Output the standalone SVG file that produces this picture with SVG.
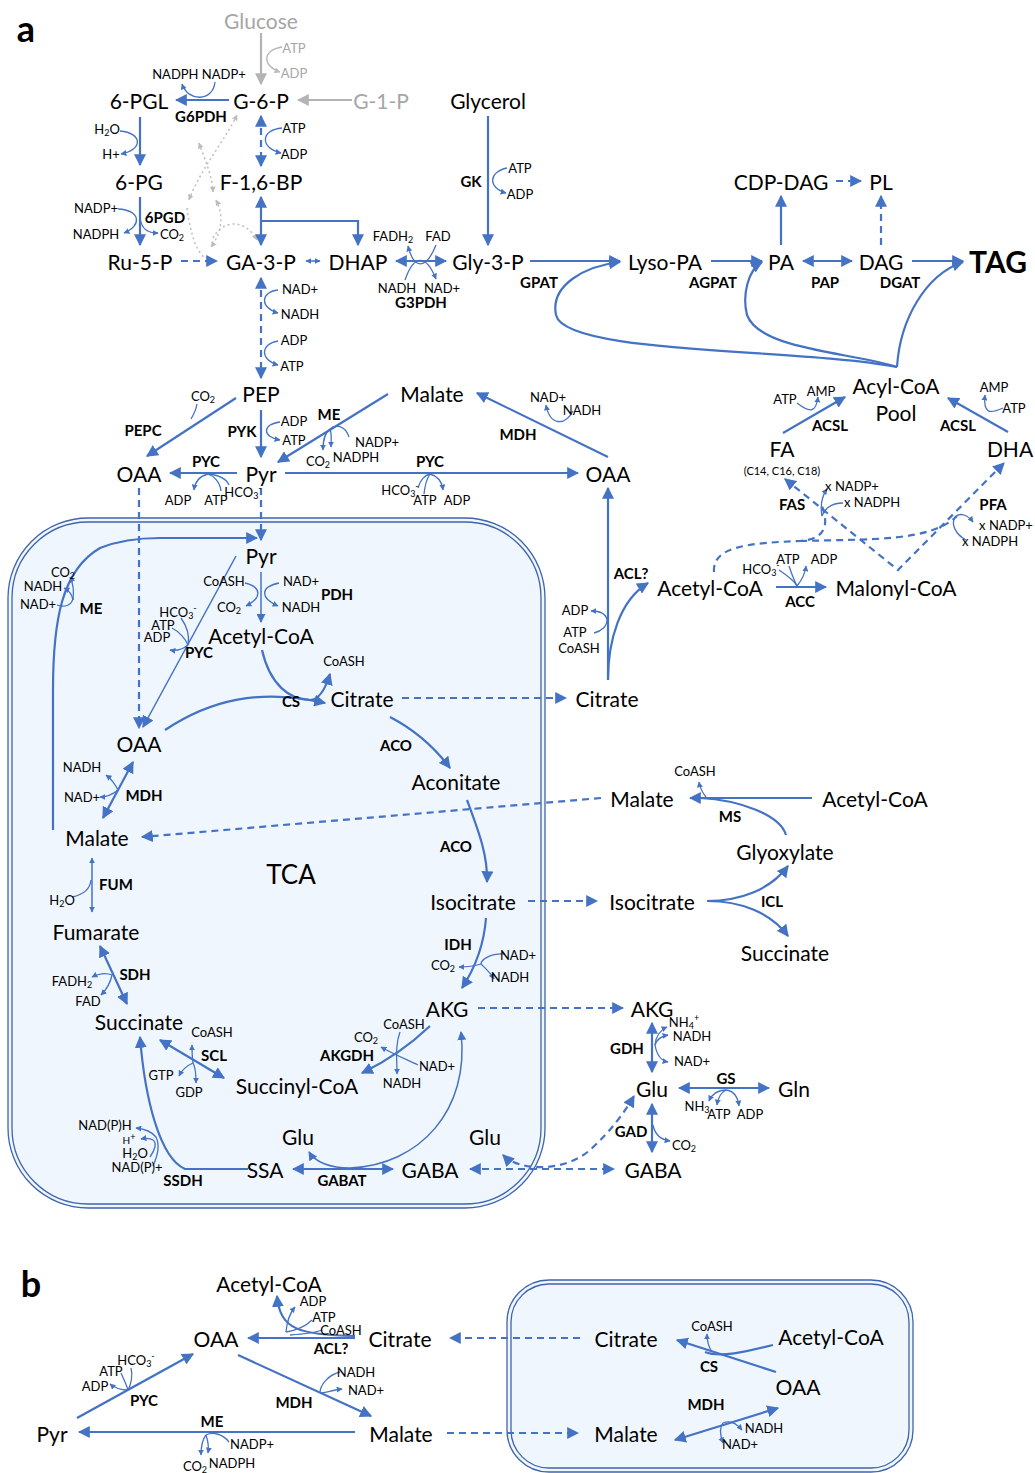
<svg xmlns="http://www.w3.org/2000/svg" width="1035" height="1473" viewBox="0 0 1035 1473">
<style>
text{font-family:Lato,"Liberation Sans",sans-serif;text-anchor:middle;dominant-baseline:central;fill:#000}
.m{font-size:21px}
.s{font-size:13px}
.e{font-size:15px;font-weight:bold}
.x{font-size:11px}
.sub{font-size:9px}
.gr{fill:#A6A6A6}
.l{stroke:#4472C4;stroke-width:2.2;fill:none}
.t{stroke:#4472C4;stroke-width:1.5;fill:none}
.c{stroke:#4472C4;stroke-width:1.3;fill:none}
.d{stroke-dasharray:7 5}
.gl{stroke:#B4B4B4;stroke-width:2.2;fill:none}
.gc{stroke:#B4B4B4;stroke-width:1.3;fill:none}
.dot{stroke:#BDBDBD;stroke-width:1.5;fill:none;stroke-dasharray:2 3}
.box{fill:#EFF6FD;stroke:#3F64AE;stroke-width:1.3}
.box2{fill:none;stroke:#3F64AE;stroke-width:1.3}
</style>
<defs>
<marker id="a" viewBox="0 0 10 10" refX="9" refY="5" markerWidth="12" markerHeight="12" markerUnits="userSpaceOnUse" orient="auto-start-reverse"><path d="M0,0 L10,5 L0,10 z" fill="#4472C4"/></marker>
<marker id="am" viewBox="0 0 10 10" refX="9" refY="5" markerWidth="9" markerHeight="9" markerUnits="userSpaceOnUse" orient="auto-start-reverse"><path d="M0,0 L10,5 L0,10 z" fill="#4472C4"/></marker>
<marker id="as" viewBox="0 0 10 10" refX="9" refY="5" markerWidth="6" markerHeight="6" markerUnits="userSpaceOnUse" orient="auto-start-reverse"><path d="M0,0 L10,5 L0,10 z" fill="#4472C4"/></marker>
<marker id="ag" viewBox="0 0 10 10" refX="9" refY="5" markerWidth="12" markerHeight="12" markerUnits="userSpaceOnUse" orient="auto-start-reverse"><path d="M0,0 L10,5 L0,10 z" fill="#B4B4B4"/></marker>
<marker id="ags" viewBox="0 0 10 10" refX="9" refY="5" markerWidth="6" markerHeight="6" markerUnits="userSpaceOnUse" orient="auto-start-reverse"><path d="M0,0 L10,5 L0,10 z" fill="#BDBDBD"/></marker>
</defs>
<rect width="1035" height="1473" fill="#fff"/>

<!-- compartments -->
<g id="mitochondrion">
<rect class="box" x="8" y="518" width="537" height="690" rx="80"/>
<rect class="box2" x="12" y="522" width="529" height="682" rx="76"/>
</g>
<g id="b-mitochondrion">
<rect class="box" x="507" y="1280" width="406" height="192" rx="42"/>
<rect class="box2" x="511" y="1284" width="398" height="184" rx="38"/>
</g>

<!-- panel letters -->
<text x="26" y="28" style="font-size:36px;font-weight:bold">a</text>
<text x="31" y="1283" style="font-size:36px;font-weight:bold">b</text>

<!-- connectors -->
<g id="connectors">
<!-- gray glucose part -->
<path class="gl" d="M261,33 L261,84" marker-end="url(#ag)"/>
<path class="gc" d="M282,47 C 262,50 262,66 280,72" marker-end="url(#ags)"/>
<path class="gl" d="M352,100 L298,100" marker-end="url(#ag)"/>
<!-- PPP dotted -->
<path class="dot" d="M189,200 C 200,170 225,140 237,115" marker-start="url(#ags)" marker-end="url(#ags)"/>
<path class="dot" d="M199,143 C 205,160 212,175 213,192" marker-start="url(#ags)" marker-end="url(#ags)"/>
<path class="dot" d="M187,208 C 190,230 195,250 205,258"/>
<path class="dot" d="M216,200 C 224,215 222,232 211,247" marker-start="url(#ags)" marker-end="url(#ags)"/>
<path class="dot" d="M213,238 C 222,220 245,218 257,240" marker-end="url(#ags)"/>
<!-- G6PDH -->
<path class="l" d="M229,100 L176,100" marker-end="url(#a)"/>
<path class="c" d="M215,82 C 213,102 188,102 182,84" marker-end="url(#as)"/>
<!-- 6-PGL -> 6-PG -->
<path class="l" d="M140,117 L140,165" marker-end="url(#a)"/>
<path class="c" d="M120,131 C 143,133 143,150 121,154" marker-end="url(#as)"/>
<!-- G-6-P <-> F-1,6-BP -->
<path class="l d" d="M261,116 L261,166" marker-start="url(#a)" marker-end="url(#a)"/>
<path class="c" d="M282,128 C 260,130 260,148 281,153" marker-end="url(#as)"/>
<!-- 6PGD -->
<path class="l" d="M140,197 L140,245" marker-end="url(#a)"/>
<path class="c" d="M118,209 C 141,210 142,226 124,233" marker-end="url(#as)"/>
<path class="c" d="M140,218 C 142,230 148,233 158,233" marker-end="url(#as)"/>
<!-- Ru-5-P -> GA-3-P -->
<path class="l d" d="M181,261 L217,261" marker-end="url(#a)"/>
<path class="t" d="M306,261 L320,261" marker-start="url(#as)" marker-end="url(#as)"/>
<!-- F-1,6-BP <-> GA-3-P / DHAP -->
<path class="l" d="M261,197 L261,245" marker-start="url(#a)" marker-end="url(#a)"/>
<path class="l" d="M261,221 L358,221 L358,245" marker-end="url(#a)"/>
<!-- G3PDH -->
<path class="l" d="M396,261 L446,261" marker-start="url(#a)" marker-end="url(#a)"/>
<path class="c" d="M436,245 C 426,270 414,270 408,246" marker-end="url(#as)"/>
<path class="c" d="M405,280 C 414,254 426,254 436,279" marker-end="url(#as)"/>
<!-- GK -->
<path class="l" d="M488,116 L488,245" marker-end="url(#a)"/>
<path class="c" d="M507,168 C 488,172 488,188 506,193" marker-end="url(#as)"/>
<!-- lipid chain -->
<path class="l" d="M530,261 L620,261" marker-end="url(#a)"/>
<path class="l" d="M711,261 L762,261" marker-end="url(#a)"/>
<path class="l" d="M803,261 L852,261" marker-start="url(#a)" marker-end="url(#a)"/>
<path class="l" d="M912,261 L963,261" marker-end="url(#a)"/>
<path class="l" d="M781,245 L781,196" marker-end="url(#a)"/>
<path class="l d" d="M836,181 L861,181" marker-end="url(#a)"/>
<path class="l d" d="M881,245 L881,196" marker-end="url(#a)"/>
<!-- Acyl-CoA donors -->
<path class="l" d="M897,367 C 800,348 565,355 556,315 C 550,285 585,266 620,262" marker-end="url(#a)"/>
<path class="l" d="M897,367 C 850,352 760,350 747,315 C 742,295 748,270 762,262" marker-end="url(#a)"/>
<path class="l" d="M897,367 C 900,320 925,275 963,262" marker-end="url(#a)"/>
<!-- GA-3-P <-> PEP -->
<path class="l d" d="M261,278 L261,378" marker-start="url(#a)" marker-end="url(#a)"/>
<path class="c" d="M278,290 C 260,292 260,308 278,313" marker-end="url(#as)"/>
<path class="c" d="M278,341 C 260,344 260,360 278,365" marker-end="url(#as)"/>
<!-- PEPC -->
<path class="l" d="M236,398 L147,456" marker-end="url(#a)"/>
<path class="c" d="M197,404 C 196,410 194,414 191,419"/>
<!-- PYK -->
<path class="l" d="M261,410 L261,457" marker-end="url(#a)"/>
<path class="c" d="M280,422 C 262,424 262,437 280,440" marker-end="url(#as)"/>
<!-- ME cyto -->
<path class="l" d="M388,394 L278,462" marker-end="url(#a)"/>
<path class="c" d="M349,437 C 345,425 335,424 330,429"/>
<path class="c" d="M330,429 C 324,434 323,441 323,450" marker-end="url(#as)"/>
<path class="c" d="M330,429 C 332,434 331,440 331,447" marker-end="url(#as)"/>
<!-- PYC cyto left -->
<path class="l" d="M237,473 L170,473" marker-end="url(#a)"/>
<path class="c" d="M221,491 C 220,482 214,476 208,474"/>
<path class="c" d="M229,485 C 226,478 218,475 208,474"/>
<path class="c" d="M208,474 C 200,476 195,482 194,490" marker-end="url(#as)"/>
<!-- PYC cyto right -->
<path class="l" d="M285,473 L578,473" marker-end="url(#a)"/>
<path class="c" d="M418,488 C 420,480 425,475 430,474"/>
<path class="c" d="M424,494 C 425,484 428,477 430,474"/>
<path class="c" d="M430,474 C 438,476 442,482 443,490" marker-end="url(#as)"/>
<!-- MDH cyto -->
<path class="l" d="M608,457 L477,393" marker-end="url(#a)"/>
<path class="c" d="M573,411 C 565,426 550,426 546,405" marker-end="url(#as)"/>
<!-- transport to mito -->
<path class="l d" d="M139,488 L139,728" marker-end="url(#a)"/>
<path class="l d" d="M261,488 L261,540" marker-end="url(#a)"/>
<!-- ACL? -->
<path class="l" d="M608,680 L608,488" marker-end="url(#a)"/>
<path class="l" d="M608,680 C 608,640 620,600 648,583" marker-end="url(#a)"/>
<path class="c" d="M594,633 C 602,631 607,626 607,620 C 606,614 600,611 591,611" marker-end="url(#as)"/>
<!-- ACC -->
<path class="l" d="M776,587 L826,587" marker-end="url(#a)"/>
<path class="c" d="M779,570 C 788,576 795,582 797,586"/>
<path class="c" d="M789,566 C 792,575 795,582 797,586"/>
<path class="c" d="M797,586 C 802,580 805,575 806,566" marker-end="url(#as)"/>
<!-- FAS / PFA -->
<path class="l d" d="M785,479 L898,570 L1004,463" marker-start="url(#a)" marker-end="url(#a)"/>
<path class="l d" d="M714,572 C 712,546 750,543 800,541 C 828,539 828,522 822,506"/>
<path class="l d" d="M800,541 C 870,539 930,542 957,516"/>
<path class="c" d="M843,503 C 830,503 824,510 822,516"/>
<path class="c" d="M822,516 C 820,505 822,496 827,489" marker-end="url(#as)"/>
<path class="c" d="M966,540 C 955,534 951,524 955,517 C 960,512 968,515 973,522" marker-end="url(#as)"/>
<!-- ACSL -->
<path class="l" d="M783,433 L845,397" marker-end="url(#a)"/>
<path class="c" d="M797,403 C 810,413 816,413 818,397" marker-end="url(#as)"/>
<path class="l" d="M1008,432 L948,398" marker-end="url(#a)"/>
<path class="c" d="M1003,408 C 990,414 983,414 985,395" marker-end="url(#as)"/>

<!-- mitochondrial -->
<path class="t" d="M261,572 L261,622" marker-end="url(#am)"/>
<path class="c" d="M245,583 C 262,587 262,598 246,606" marker-end="url(#as)"/>
<path class="c" d="M279,583 C 260,587 260,598 278,606" marker-end="url(#as)"/>
<path class="l" d="M53,830 L53,690 C 53,620 62,570 100,548 C 120,540 140,538 160,538 L257,538" marker-end="url(#a)"/>
<path class="c" d="M57,605 C 65,608 72,605 73,598"/>
<path class="c" d="M73,600 C 72,594 68,590 64,588" marker-end="url(#as)"/>
<path class="c" d="M73,600 C 74,592 73,583 70,577" marker-end="url(#as)"/>
<path class="t" d="M236,556 L143,727" marker-end="url(#a)"/>
<path class="c" d="M181,618 C 186,625 190,635 188,645"/>
<path class="c" d="M172,628 C 180,632 186,640 188,645"/>
<path class="c" d="M188,645 C 182,650 176,651 170,650" marker-end="url(#as)"/>
<path class="l" d="M165,730 C 210,700 260,688 325,703" marker-end="url(#a)"/>
<path class="l" d="M262,650 C 270,685 290,700 310,700 C 318,700 325,690 330,674" marker-end="url(#a)"/>
<path class="l d" d="M402,698 L566,698" marker-end="url(#a)"/>
<path class="l" d="M390,717 C 415,730 435,748 450,768" marker-end="url(#a)"/>
<path class="l" d="M467,800 C 478,830 488,855 487,882" marker-end="url(#a)"/>
<path class="l d" d="M528,901 L597,901" marker-end="url(#a)"/>
<path class="l" d="M486,918 C 484,945 475,968 462,988" marker-end="url(#a)"/>
<path class="c" d="M505,954 C 490,953 481,960 481,964"/>
<path class="c" d="M481,964 C 485,968 490,972 494,979" marker-end="url(#as)"/>
<path class="c" d="M481,964 C 475,966 468,967 459,967" marker-end="url(#as)"/>
<path class="l d" d="M478,1008 L623,1008" marker-end="url(#a)"/>
<path class="l" d="M430,1026 C 410,1045 385,1062 362,1073" marker-end="url(#a)"/>
<path class="c" d="M400,1032 C 395,1045 397,1060 397,1074" marker-end="url(#as)"/>
<path class="c" d="M418,1065 C 408,1060 395,1055 381,1047" marker-end="url(#as)"/>
<path class="l" d="M160,1040 L224,1078" marker-start="url(#a)" marker-end="url(#a)"/>
<path class="c" d="M193,1063 C 192,1056 192,1050 192,1045" marker-end="url(#as)"/>
<path class="c" d="M193,1063 C 186,1066 182,1070 179,1076" marker-end="url(#as)"/>
<path class="c" d="M193,1063 C 196,1068 196,1076 196,1083" marker-end="url(#as)"/>
<path class="l" d="M100,946 L127,1004" marker-start="url(#a)" marker-end="url(#a)"/>
<path class="c" d="M112,975 C 105,972 98,974 92,977" marker-end="url(#as)"/>
<path class="c" d="M112,975 C 110,985 106,990 101,995" marker-end="url(#as)"/>
<path class="t" d="M92,858 L92,912" marker-start="url(#as)" marker-end="url(#as)"/>
<path class="c" d="M72,897 C 82,895 90,890 91,880"/>
<path class="l" d="M133,762 L103,818" marker-start="url(#a)" marker-end="url(#a)"/>
<path class="c" d="M118,790 C 114,782 110,778 106,775" marker-end="url(#as)"/>
<path class="c" d="M118,790 C 112,795 106,797 100,797" marker-end="url(#as)"/>
<path class="l d" d="M601,798 L142,837" marker-end="url(#a)"/>
<path class="l" d="M293,1169 L393,1169" marker-start="url(#a)" marker-end="url(#a)"/>
<path class="t" d="M350,1168 C 330,1168 315,1162 309,1152" marker-end="url(#am)"/>
<path class="t" d="M350,1168 C 420,1165 470,1110 461,1032" marker-end="url(#am)"/>
<path class="l" d="M248,1169 L185,1169 C 160,1158 145,1100 140,1037" marker-end="url(#a)"/>
<path class="c" d="M153,1166 C 158,1155 160,1145 156,1137 C 152,1132 145,1129 136,1128" marker-end="url(#as)"/>
<path class="c" d="M150,1157 C 155,1150 157,1143 153,1140 C 150,1138 146,1138 141,1139" marker-end="url(#as)"/>

<!-- cytosol right -->
<path class="l" d="M812,798 L690,798" marker-end="url(#a)"/>
<path class="l" d="M786,835 C 780,815 740,800 700,798"/>
<path class="c" d="M706,797 C 702,792 700,788 699,782" marker-end="url(#as)"/>
<path class="l" d="M707,901 C 740,901 770,890 788,866" marker-end="url(#a)"/>
<path class="l" d="M707,901 C 740,901 770,912 788,936" marker-end="url(#a)"/>
<path class="l" d="M652,1023 L652,1072" marker-start="url(#a)" marker-end="url(#a)"/>
<path class="c" d="M655,1045 C 656,1035 660,1030 667,1027" marker-end="url(#as)"/>
<path class="c" d="M655,1045 C 657,1039 662,1036 668,1035" marker-end="url(#as)"/>
<path class="c" d="M655,1045 C 657,1056 662,1061 668,1062" marker-end="url(#as)"/>
<path class="l" d="M679,1088 L769,1088" marker-start="url(#a)" marker-end="url(#a)"/>
<path class="c" d="M726,1090 C 718,1090 712,1094 709,1101" marker-end="url(#as)"/>
<path class="c" d="M726,1090 C 720,1093 718,1098 717,1105" marker-end="url(#as)"/>
<path class="c" d="M726,1090 C 734,1091 738,1098 739,1106" marker-end="url(#as)"/>
<path class="l" d="M652,1104 L652,1152" marker-start="url(#a)" marker-end="url(#a)"/>
<path class="c" d="M653,1125 C 655,1135 662,1140 670,1141" marker-end="url(#as)"/>
<path class="l d" d="M470,1169 L614,1169" marker-start="url(#a)" marker-end="url(#a)"/>
<path class="l d" d="M503,1155 C 520,1172 565,1172 590,1150 C 610,1132 625,1112 634,1096" marker-start="url(#a)" marker-end="url(#a)"/>

<!-- panel b -->
<path class="l" d="M355,1338 L248,1338" marker-end="url(#a)"/>
<path class="l" d="M355,1336 C 300,1335 280,1330 277,1296" marker-end="url(#a)"/>
<path class="c" d="M286,1332 C 287,1320 290,1313 295,1307" marker-end="url(#as)"/>
<path class="c" d="M286,1332 C 298,1330 306,1326 312,1320"/>
<path class="c" d="M290,1335 C 305,1334 315,1333 322,1330"/>
<path class="l" d="M77,1418 L193,1354" marker-end="url(#a)"/>
<path class="c" d="M131,1368 C 133,1375 131,1385 128,1390"/>
<path class="c" d="M121,1373 C 124,1380 127,1386 128,1390"/>
<path class="c" d="M128,1390 C 122,1390 116,1389 110,1384" marker-end="url(#as)"/>
<path class="l" d="M238,1355 L371,1416" marker-end="url(#a)"/>
<path class="c" d="M340,1372 C 328,1375 320,1385 320,1393"/>
<path class="c" d="M320,1393 C 325,1393 333,1390 342,1389" marker-end="url(#as)"/>
<path class="l" d="M355,1432 L79,1432" marker-end="url(#a)"/>
<path class="c" d="M229,1442 C 222,1433 212,1432 206,1435"/>
<path class="c" d="M206,1435 C 202,1440 201,1446 201,1455" marker-end="url(#as)"/>
<path class="c" d="M206,1435 C 208,1441 209,1447 208,1453" marker-end="url(#as)"/>
<path class="l d" d="M580,1338 L450,1338" marker-end="url(#a)"/>
<path class="l d" d="M447,1433 L578,1433" marker-end="url(#a)"/>
<path class="l" d="M776,1372 L677,1340" marker-end="url(#a)"/>
<path class="l" d="M773,1345 C 745,1352 720,1358 705,1352"/>
<path class="c" d="M712,1352 C 708,1346 707,1340 707,1334" marker-end="url(#as)"/>
<path class="l" d="M675,1440 L778,1408" marker-start="url(#a)" marker-end="url(#a)"/>
<path class="c" d="M723,1423 C 719,1428 720,1435 723,1443" marker-end="url(#as)"/>
<path class="c" d="M723,1423 C 730,1420 737,1424 742,1430" marker-end="url(#as)"/>
</g>

<!-- nodes -->
<g id="n-glucose"><text class="m gr" x="261" y="20">Glucose</text></g>
<g id="n-g6p"><text class="m" x="261" y="100">G-6-P</text></g>
<g id="n-g1p"><text class="m gr" x="381" y="100">G-1-P</text></g>
<g id="n-6pgl"><text class="m" x="139" y="100">6-PGL</text></g>
<g id="n-glycerol"><text class="m" x="488" y="100">Glycerol</text></g>
<g id="n-6pg"><text class="m" x="139" y="181">6-PG</text></g>
<g id="n-f16bp"><text class="m" x="261" y="181">F-1,6-BP</text></g>
<g id="n-ru5p"><text class="m" x="140" y="261">Ru-5-P</text></g>
<g id="n-ga3p"><text class="m" x="261" y="261">GA-3-P</text></g>
<g id="n-dhap"><text class="m" x="358" y="261">DHAP</text></g>
<g id="n-gly3p"><text class="m" x="488" y="261">Gly-3-P</text></g>
<g id="n-lysopa"><text class="m" x="665" y="261">Lyso-PA</text></g>
<g id="n-pa"><text class="m" x="781" y="261">PA</text></g>
<g id="n-dag"><text class="m" x="881" y="261">DAG</text></g>
<g id="n-tag"><text x="998" y="261" style="font-size:30px;font-weight:bold">TAG</text></g>
<g id="n-cdpdag"><text class="m" x="781" y="181">CDP-DAG</text></g>
<g id="n-pl"><text class="m" x="881" y="181">PL</text></g>
<g id="n-acylcoa"><text class="m" x="896" y="385">Acyl-CoA</text><text class="m" x="896" y="412">Pool</text></g>
<g id="n-fa"><text class="m" x="782" y="448">FA</text><text class="x" x="782" y="470">(C14, C16, C18)</text></g>
<g id="n-dha"><text class="m" x="1010" y="448">DHA</text></g>
<g id="n-pep"><text class="m" x="261" y="393">PEP</text></g>
<g id="n-malate-c1"><text class="m" x="432" y="393">Malate</text></g>
<g id="n-oaa-c1"><text class="m" x="139" y="473">OAA</text></g>
<g id="n-pyr-c"><text class="m" x="261" y="473">Pyr</text></g>
<g id="n-oaa-c2"><text class="m" x="608" y="473">OAA</text></g>
<g id="n-acetylcoa-c"><text class="m" x="710" y="587">Acetyl-CoA</text></g>
<g id="n-malonylcoa"><text class="m" x="896" y="587">Malonyl-CoA</text></g>
<g id="n-citrate-c"><text class="m" x="607" y="698">Citrate</text></g>
<g id="n-malate-c2"><text class="m" x="642" y="798">Malate</text></g>
<g id="n-acetylcoa-c2"><text class="m" x="875" y="798">Acetyl-CoA</text></g>
<g id="n-glyoxylate"><text class="m" x="785" y="851">Glyoxylate</text></g>
<g id="n-isocitrate-c"><text class="m" x="652" y="901">Isocitrate</text></g>
<g id="n-succinate-c"><text class="m" x="785" y="952">Succinate</text></g>
<g id="n-akg-c"><text class="m" x="652" y="1008">AKG</text></g>
<g id="n-glu-c"><text class="m" x="652" y="1088">Glu</text></g>
<g id="n-gln"><text class="m" x="794" y="1088">Gln</text></g>
<g id="n-gaba-c"><text class="m" x="653" y="1169">GABA</text></g>
<!-- mito nodes -->
<g id="n-pyr-m"><text class="m" x="261" y="555">Pyr</text></g>
<g id="n-acetylcoa-m"><text class="m" x="261" y="635">Acetyl-CoA</text></g>
<g id="n-citrate-m"><text class="m" x="362" y="698">Citrate</text></g>
<g id="n-oaa-m"><text class="m" x="139" y="743">OAA</text></g>
<g id="n-aconitate"><text class="m" x="456" y="781">Aconitate</text></g>
<g id="n-malate-m"><text class="m" x="97" y="837">Malate</text></g>
<g id="n-tca"><text x="291" y="874" style="font-size:26px">TCA</text></g>
<g id="n-isocitrate-m"><text class="m" x="473" y="901">Isocitrate</text></g>
<g id="n-fumarate"><text class="m" x="96" y="931">Fumarate</text></g>
<g id="n-akg-m"><text class="m" x="447" y="1008">AKG</text></g>
<g id="n-succinate-m"><text class="m" x="139" y="1021">Succinate</text></g>
<g id="n-succcoa"><text class="m" x="297" y="1085">Succinyl-CoA</text></g>
<g id="n-glu-m1"><text class="m" x="298" y="1136">Glu</text></g>
<g id="n-glu-m2"><text class="m" x="485" y="1136">Glu</text></g>
<g id="n-ssa"><text class="m" x="265" y="1169">SSA</text></g>
<g id="n-gaba-m"><text class="m" x="430" y="1169">GABA</text></g>
<!-- panel b nodes -->
<g id="b-acetylcoa"><text class="m" x="269" y="1283">Acetyl-CoA</text></g>
<g id="b-oaa"><text class="m" x="216" y="1338">OAA</text></g>
<g id="b-citrate"><text class="m" x="400" y="1338">Citrate</text></g>
<g id="b-pyr"><text class="m" x="52" y="1433">Pyr</text></g>
<g id="b-malate"><text class="m" x="401" y="1433">Malate</text></g>
<g id="b-citrate-m"><text class="m" x="626" y="1338">Citrate</text></g>
<g id="b-acetylcoa-m"><text class="m" x="831" y="1336">Acetyl-CoA</text></g>
<g id="b-oaa-m"><text class="m" x="798" y="1386">OAA</text></g>
<g id="b-malate-m"><text class="m" x="626" y="1433">Malate</text></g>

<!-- enzyme and cofactor labels -->
<g id="labels">
<text class="s gr" x="294" y="48">ATP</text>
<text class="s gr" x="294" y="73">ADP</text>
<text class="s" x="199" y="74">NADPH NADP+</text>
<text class="e" x="201" y="116">G6PDH</text>
<text class="s" x="107" y="129">H<tspan class="sub" dy="3">2</tspan><tspan dy="-3">O</tspan></text>
<text class="s" x="111" y="154">H+</text>
<text class="s" x="294" y="128">ATP</text>
<text class="s" x="294" y="154">ADP</text>
<text class="s" x="96" y="208">NADP+</text>
<text class="s" x="96" y="234">NADPH</text>
<text class="e" x="165" y="217">6PGD</text>
<text class="s" x="172" y="234">CO<tspan class="sub" dy="3">2</tspan></text>
<text class="s" x="393" y="236">FADH<tspan class="sub" dy="3">2</tspan></text>
<text class="s" x="438" y="236">FAD</text>
<text class="s" x="397" y="288">NADH</text>
<text class="s" x="442" y="288">NAD+</text>
<text class="e" x="421" y="302">G3PDH</text>
<text class="e" x="471" y="181">GK</text>
<text class="s" x="520" y="168">ATP</text>
<text class="s" x="520" y="194">ADP</text>
<text class="e" x="539" y="282">GPAT</text>
<text class="e" x="713" y="282">AGPAT</text>
<text class="e" x="825" y="282">PAP</text>
<text class="e" x="900" y="282">DGAT</text>
<text class="s" x="300" y="289">NAD+</text>
<text class="s" x="300" y="314">NADH</text>
<text class="s" x="294" y="340">ADP</text>
<text class="s" x="292" y="366">ATP</text>
<text class="s" x="203" y="396">CO<tspan class="sub" dy="3">2</tspan></text>
<text class="e" x="143" y="430">PEPC</text>
<text class="e" x="242" y="431">PYK</text>
<text class="s" x="294" y="421">ADP</text>
<text class="s" x="294" y="440">ATP</text>
<text class="e" x="329" y="414">ME</text>
<text class="s" x="377" y="442">NADP+</text>
<text class="s" x="318" y="461">CO<tspan class="sub" dy="3">2</tspan></text>
<text class="s" x="356" y="457">NADPH</text>
<text class="e" x="206" y="461">PYC</text>
<text class="s" x="178" y="500">ADP</text>
<text class="s" x="216" y="500">ATP</text>
<text class="s" x="243" y="492">HCO<tspan class="sub" dy="3">3</tspan><tspan class="sub" dy="-8">-</tspan></text>
<text class="e" x="430" y="461">PYC</text>
<text class="s" x="400" y="490">HCO<tspan class="sub" dy="3">3</tspan><tspan class="sub" dy="-8">-</tspan></text>
<text class="s" x="425" y="500">ATP</text>
<text class="s" x="457" y="500">ADP</text>
<text class="e" x="518" y="434">MDH</text>
<text class="s" x="548" y="397">NAD+</text>
<text class="s" x="582" y="410">NADH</text>
<text class="e" x="631" y="573">ACL?</text>
<text class="s" x="575" y="610">ADP</text>
<text class="s" x="575" y="632">ATP</text>
<text class="s" x="579" y="648">CoASH</text>
<text class="s" x="761" y="569">HCO<tspan class="sub" dy="3">3</tspan><tspan class="sub" dy="-8">-</tspan></text>
<text class="s" x="788" y="559">ATP</text>
<text class="s" x="824" y="559">ADP</text>
<text class="e" x="800" y="601">ACC</text>
<text class="e" x="792" y="504">FAS</text>
<text class="s" x="852" y="486">x NADP+</text>
<text class="s" x="872" y="502">x NADPH</text>
<text class="e" x="993" y="504">PFA</text>
<text class="s" x="1006" y="525">x NADP+</text>
<text class="s" x="990" y="541">x NADPH</text>
<text class="e" x="830" y="425">ACSL</text>
<text class="e" x="958" y="425">ACSL</text>
<text class="s" x="785" y="399">ATP</text>
<text class="s" x="821" y="391">AMP</text>
<text class="s" x="994" y="387">AMP</text>
<text class="s" x="1014" y="408">ATP</text>
<!-- mito labels -->
<text class="s" x="224" y="581">CoASH</text>
<text class="s" x="301" y="581">NAD+</text>
<text class="s" x="229" y="607">CO<tspan class="sub" dy="3">2</tspan></text>
<text class="s" x="301" y="607">NADH</text>
<text class="e" x="337" y="594">PDH</text>
<text class="e" x="91" y="608">ME</text>
<text class="s" x="63" y="572">CO<tspan class="sub" dy="3">2</tspan></text>
<text class="s" x="43" y="586">NADH</text>
<text class="s" x="38" y="604">NAD+</text>
<text class="s" x="178" y="612">HCO<tspan class="sub" dy="3">3</tspan><tspan class="sub" dy="-8">-</tspan></text>
<text class="s" x="163" y="625">ATP</text>
<text class="s" x="157" y="637">ADP</text>
<text class="e" x="199" y="652">PYC</text>
<text class="s" x="344" y="661">CoASH</text>
<text class="e" x="291" y="701">CS</text>
<text class="e" x="396" y="745">ACO</text>
<text class="e" x="456" y="846">ACO</text>
<text class="s" x="82" y="767">NADH</text>
<text class="s" x="82" y="797">NAD+</text>
<text class="e" x="144" y="795">MDH</text>
<text class="e" x="116" y="884">FUM</text>
<text class="s" x="62" y="900">H<tspan class="sub" dy="3">2</tspan><tspan dy="-3">O</tspan></text>
<text class="e" x="458" y="944">IDH</text>
<text class="s" x="518" y="955">NAD+</text>
<text class="s" x="443" y="965">CO<tspan class="sub" dy="3">2</tspan></text>
<text class="s" x="510" y="977">NADH</text>
<text class="e" x="135" y="974">SDH</text>
<text class="s" x="72" y="981">FADH<tspan class="sub" dy="3">2</tspan></text>
<text class="s" x="88" y="1001">FAD</text>
<text class="s" x="212" y="1032">CoASH</text>
<text class="e" x="214" y="1055">SCL</text>
<text class="s" x="161" y="1075">GTP</text>
<text class="s" x="189" y="1092">GDP</text>
<text class="e" x="347" y="1055">AKGDH</text>
<text class="s" x="366" y="1037">CO<tspan class="sub" dy="3">2</tspan></text>
<text class="s" x="404" y="1024">CoASH</text>
<text class="s" x="437" y="1066">NAD+</text>
<text class="s" x="402" y="1083">NADH</text>
<text class="e" x="342" y="1180">GABAT</text>
<text class="e" x="183" y="1180">SSDH</text>
<text class="s" x="105" y="1125">NAD(P)H</text>
<text class="s" x="129" y="1140" style="font-size:10px">H<tspan class="sub" dy="-4">+</tspan></text>
<text class="s" x="135" y="1153">H<tspan class="sub" dy="3">2</tspan><tspan dy="-3">O</tspan></text>
<text class="s" x="137" y="1167">NAD(P)+</text>
<!-- cyto right labels -->
<text class="s" x="695" y="771">CoASH</text>
<text class="e" x="730" y="816">MS</text>
<text class="e" x="772" y="901">ICL</text>
<text class="e" x="627" y="1048">GDH</text>
<text class="s" x="684" y="1022">NH<tspan class="sub" dy="3">4</tspan><tspan class="sub" dy="-8">+</tspan></text>
<text class="s" x="692" y="1036">NADH</text>
<text class="s" x="692" y="1061">NAD+</text>
<text class="e" x="726" y="1078">GS</text>
<text class="s" x="697" y="1106">NH<tspan class="sub" dy="3">3</tspan></text>
<text class="s" x="719" y="1114">ATP</text>
<text class="s" x="750" y="1114">ADP</text>
<text class="e" x="631" y="1131">GAD</text>
<text class="s" x="684" y="1145">CO<tspan class="sub" dy="3">2</tspan></text>
<!-- panel b labels -->
<text class="s" x="313" y="1301">ADP</text>
<text class="s" x="324" y="1317">ATP</text>
<text class="s" x="341" y="1330">CoASH</text>
<text class="e" x="331" y="1348">ACL?</text>
<text class="s" x="136" y="1360">HCO<tspan class="sub" dy="3">3</tspan><tspan class="sub" dy="-8">-</tspan></text>
<text class="s" x="111" y="1371">ATP</text>
<text class="s" x="95" y="1386">ADP</text>
<text class="e" x="144" y="1400">PYC</text>
<text class="e" x="294" y="1402">MDH</text>
<text class="s" x="356" y="1372">NADH</text>
<text class="s" x="366" y="1390">NAD+</text>
<text class="e" x="212" y="1421">ME</text>
<text class="s" x="252" y="1444">NADP+</text>
<text class="s" x="195" y="1466">CO<tspan class="sub" dy="3">2</tspan></text>
<text class="s" x="232" y="1463">NADPH</text>
<text class="s" x="712" y="1326">CoASH</text>
<text class="e" x="709" y="1366">CS</text>
<text class="e" x="706" y="1404">MDH</text>
<text class="s" x="764" y="1428">NADH</text>
<text class="s" x="740" y="1444">NAD+</text>
</g>
</svg>
